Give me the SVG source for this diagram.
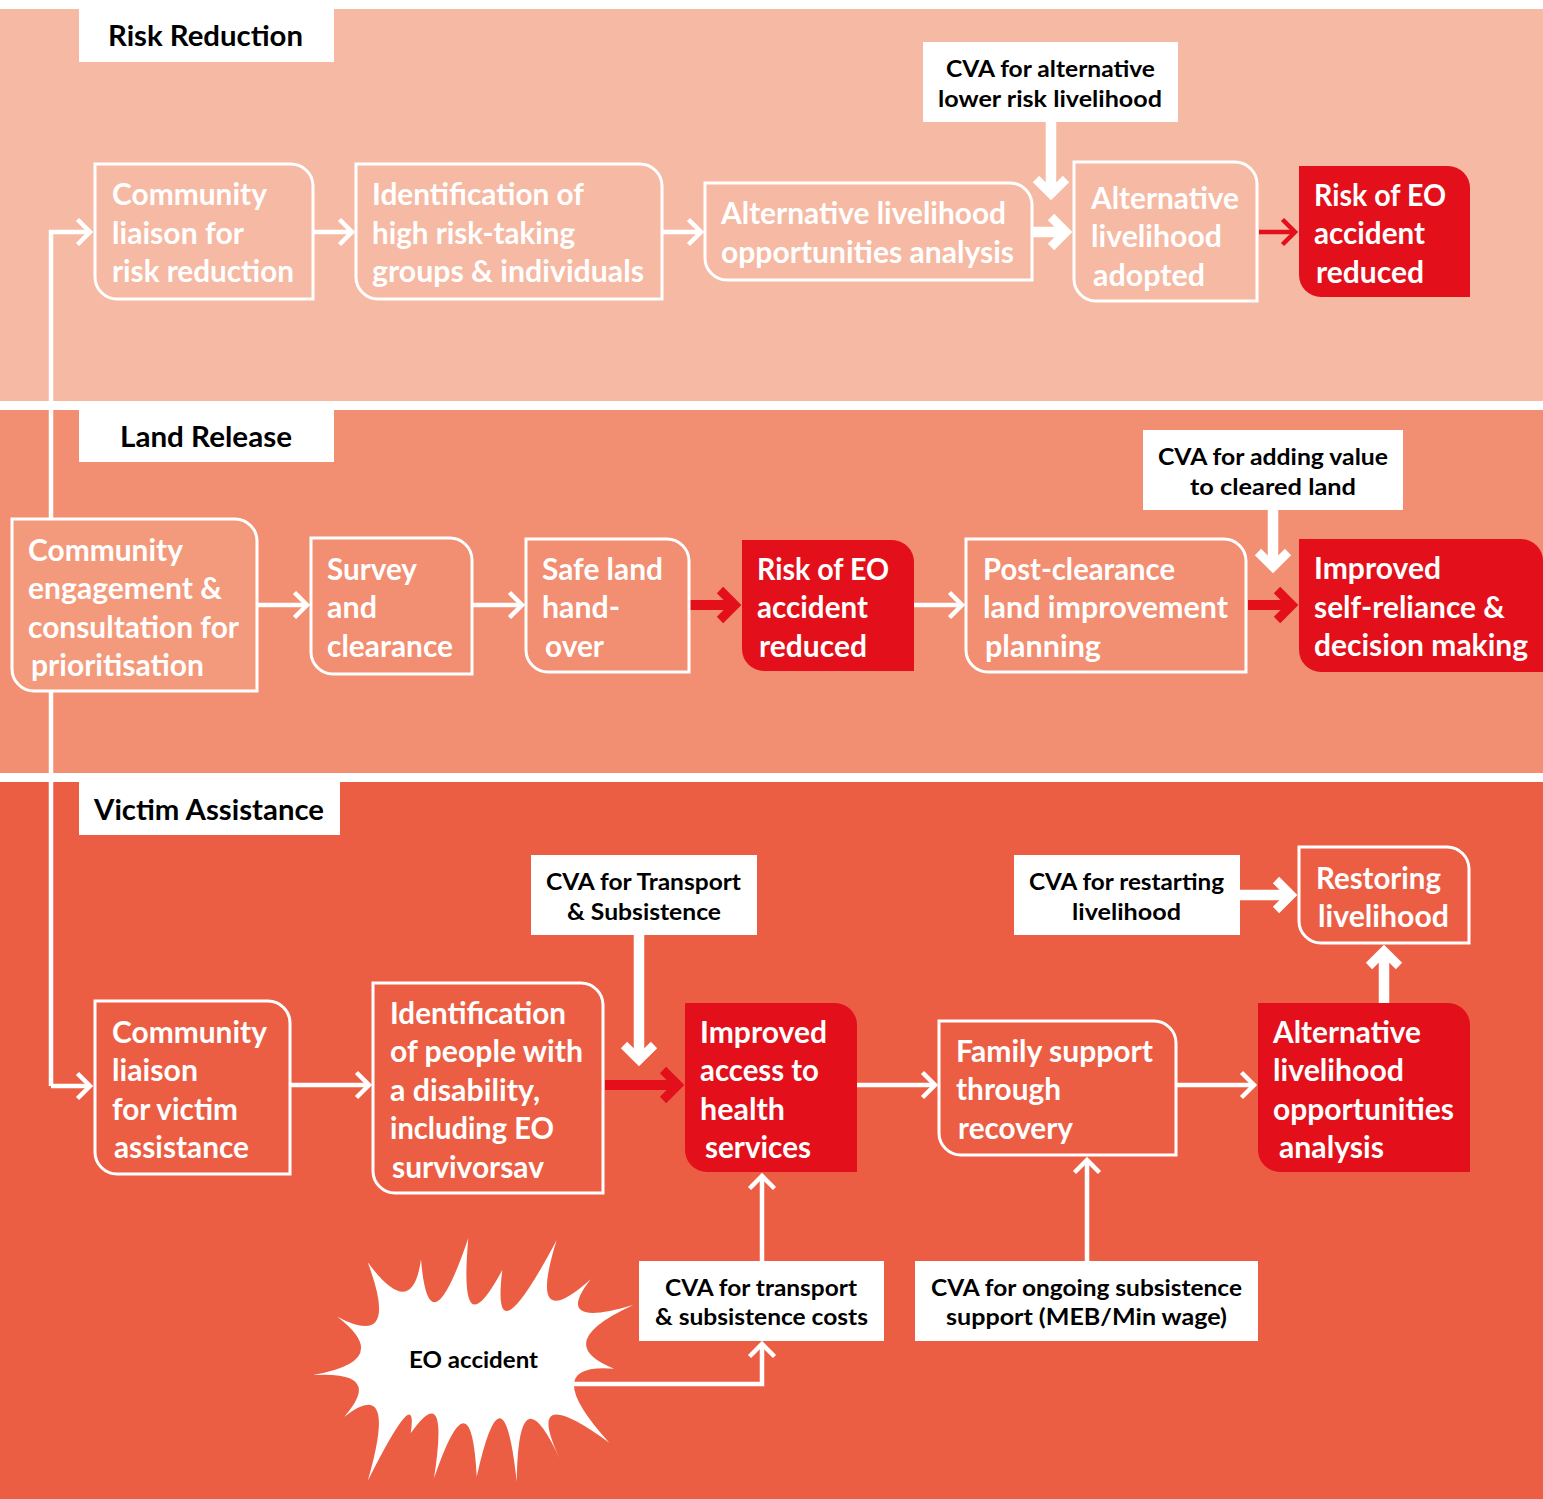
<svg xmlns="http://www.w3.org/2000/svg" width="1543" height="1499" viewBox="0 0 1543 1499">
<style>
text{font-family:Lato,"Liberation Sans",sans-serif;font-weight:700}
.w{font-size:29.5px;fill:#fff}
.c{font-size:23.5px;fill:#000}
.t{font-size:28px;fill:#000}
.box{fill:none;stroke:#fff;stroke-width:3}
.red{fill:#e30f1a}
.thin,.thick,.rthin,.rthick{fill:none}
.thin{stroke:#fff;stroke-width:4.5;marker-end:url(#mThin)}
.thick{stroke:#fff;stroke-width:10.5;marker-end:url(#mThick)}
.rthin{stroke:#e30f1a;stroke-width:4.5;marker-end:url(#mRThin)}
.rthick{stroke:#e30f1a;stroke-width:10;marker-end:url(#mRThick)}
</style>
<defs>
<marker id="mThin" markerUnits="userSpaceOnUse" markerWidth="40" markerHeight="40" viewBox="-30 -20 40 40" refX="0" refY="0" orient="auto"><path d="M-11.5,-12.5 L1,0 L-11.5,12.5" fill="none" stroke="#fff" stroke-width="4.5"/></marker>
<marker id="mRThin" markerUnits="userSpaceOnUse" markerWidth="40" markerHeight="40" viewBox="-30 -20 40 40" refX="0" refY="0" orient="auto"><path d="M-11.5,-12.5 L1,0 L-11.5,12.5" fill="none" stroke="#e30f1a" stroke-width="4.5"/></marker>
<marker id="mThick" markerUnits="userSpaceOnUse" markerWidth="60" markerHeight="60" viewBox="-40 -30 60 60" refX="0" refY="0" orient="auto"><path d="M-13,-15 L2,0 L-13,15" fill="none" stroke="#fff" stroke-width="9"/></marker>
<marker id="mRThick" markerUnits="userSpaceOnUse" markerWidth="60" markerHeight="60" viewBox="-40 -30 60 60" refX="0" refY="0" orient="auto"><path d="M-13,-15 L2,0 L-13,15" fill="none" stroke="#e30f1a" stroke-width="9"/></marker>
</defs>
<rect width="1543" height="1499" fill="#fff"/>
<g id="bands">
<rect x="0" y="9" width="1543" height="392" fill="#f6b9a3"/>
<rect x="0" y="410" width="1543" height="363" fill="#f28e71"/>
<rect x="0" y="782" width="1543" height="717" fill="#ec5e44"/>
</g>
<g id="connectors">
<path class="thin" d="M51,1086 V232 H89"/>
<path class="thin" d="M51,1086 H89"/>
<path class="thin" d="M313,232 H351"/>
<path class="thin" d="M662,232 H700"/>
<path class="thick" d="M1032,232 H1064"/>
<path class="thick" d="M1051,122 V192"/>
<path class="rthin" d="M1259,232 H1294"/>
<path class="thin" d="M257,605 H306"/>
<path class="thin" d="M472,605 H521"/>
<path class="rthick" d="M690,605 H733"/>
<path class="thin" d="M914,605 H961"/>
<path class="rthick" d="M1248,605 H1290"/>
<path class="thick" d="M1273,510 V565"/>
<path class="thin" d="M290,1085 H368"/>
<path class="rthick" d="M605,1085 H676"/>
<path class="thin" d="M857,1085 H934"/>
<path class="thin" d="M1176,1085 H1253"/>
<path class="thick" d="M639,935 V1058"/>
<path class="thick" d="M1240,895 H1289"/>
<path class="thick" d="M1384,1003 V953"/>
<path class="thin" d="M762,1261 V1177"/>
<path class="thin" d="M1087,1261 V1161"/>
<path class="thin" d="M570,1384 H762 V1345"/>
</g>
<g id="title-rr"><rect x="79" y="9" width="255" height="53" fill="#fff"/><text class="t" x="108" y="46" textLength="195" lengthAdjust="spacingAndGlyphs">Risk Reduction</text></g>
<g id="title-lr"><rect x="79" y="410" width="255" height="52" fill="#fff"/><text class="t" x="120" y="447" textLength="172" lengthAdjust="spacingAndGlyphs">Land Release</text></g>
<g id="title-va"><rect x="79" y="782" width="261" height="53" fill="#fff"/><text class="t" x="94" y="820" textLength="230" lengthAdjust="spacingAndGlyphs">Victim Assistance</text></g>

<g id="n1"><path class="box" d="M95,164 H291 A22,22 0 0 1 313,186 V299 H117 A22,22 0 0 1 95,277 Z"/>
<text class="w" x="112" y="205" textLength="155" lengthAdjust="spacingAndGlyphs">Community</text><text class="w" x="112" y="244" textLength="132" lengthAdjust="spacingAndGlyphs">liaison for</text><text class="w" x="112" y="282" textLength="182" lengthAdjust="spacingAndGlyphs">risk reduction</text></g>
<g id="n2"><path class="box" d="M356,164 H640 A22,22 0 0 1 662,186 V299 H378 A22,22 0 0 1 356,277 Z"/>
<text class="w" x="372" y="205" textLength="212" lengthAdjust="spacingAndGlyphs">Identification of</text><text class="w" x="372" y="244" textLength="203" lengthAdjust="spacingAndGlyphs">high risk-taking</text><text class="w" x="372" y="282" textLength="272" lengthAdjust="spacingAndGlyphs">groups &amp; individuals</text></g>
<g id="n3"><path class="box" d="M705,183 H1010 A22,22 0 0 1 1032,205 V280 H727 A22,22 0 0 1 705,258 Z"/>
<text class="w" x="721" y="224" textLength="285" lengthAdjust="spacingAndGlyphs">Alternative livelihood</text><text class="w" x="721" y="263" textLength="293" lengthAdjust="spacingAndGlyphs">opportunities analysis</text></g>
<g id="n4"><path class="box" d="M1074,162 H1235 A22,22 0 0 1 1257,184 V301 H1096 A22,22 0 0 1 1074,279 Z"/>
<text class="w" x="1091" y="209" textLength="148" lengthAdjust="spacingAndGlyphs">Alternative</text><text class="w" x="1091" y="247" textLength="131" lengthAdjust="spacingAndGlyphs">livelihood</text><text class="w" x="1093" y="286" textLength="112" lengthAdjust="spacingAndGlyphs">adopted</text></g>
<g id="n5"><path class="red" d="M1299,166 H1448 A22,22 0 0 1 1470,188 V297 H1321 A22,22 0 0 1 1299,275 Z"/>
<text class="w" x="1314" y="206" textLength="132" lengthAdjust="spacingAndGlyphs">Risk of EO</text><text class="w" x="1314" y="244" textLength="111" lengthAdjust="spacingAndGlyphs">accident</text><text class="w" x="1316" y="283" textLength="108" lengthAdjust="spacingAndGlyphs">reduced</text></g>
<g id="cva1"><rect x="923" y="42" width="255" height="80" fill="#fff"/><text class="c" x="946" y="77" textLength="209" lengthAdjust="spacingAndGlyphs">CVA for alternative</text><text class="c" x="938" y="107" textLength="224" lengthAdjust="spacingAndGlyphs">lower risk livelihood</text></g>

<g id="n6"><path d="M12,519 H235 A22,22 0 0 1 257,541 V691 H34 A22,22 0 0 1 12,669 Z" fill="#f49a7c" stroke="#fff" stroke-width="3"/>
<text class="w" x="28" y="561" textLength="155" lengthAdjust="spacingAndGlyphs">Community</text><text class="w" x="28" y="599" textLength="194" lengthAdjust="spacingAndGlyphs">engagement &amp;</text><text class="w" x="28" y="638" textLength="211" lengthAdjust="spacingAndGlyphs">consultation for</text><text class="w" x="31" y="676" textLength="173" lengthAdjust="spacingAndGlyphs">prioritisation</text></g>
<g id="n7"><path class="box" d="M311,538 H450 A22,22 0 0 1 472,560 V674 H333 A22,22 0 0 1 311,652 Z"/>
<text class="w" x="327" y="580" textLength="90" lengthAdjust="spacingAndGlyphs">Survey</text><text class="w" x="327" y="618" textLength="50" lengthAdjust="spacingAndGlyphs">and</text><text class="w" x="327" y="657" textLength="126" lengthAdjust="spacingAndGlyphs">clearance</text></g>
<g id="n8"><path class="box" d="M526,539 H667 A22,22 0 0 1 689,561 V672 H548 A22,22 0 0 1 526,650 Z"/>
<text class="w" x="542" y="580" textLength="121" lengthAdjust="spacingAndGlyphs">Safe land</text><text class="w" x="542" y="618" textLength="78" lengthAdjust="spacingAndGlyphs">hand-</text><text class="w" x="545" y="657" textLength="59" lengthAdjust="spacingAndGlyphs">over</text></g>
<g id="n9"><path class="red" d="M742,540 H892 A22,22 0 0 1 914,562 V671 H764 A22,22 0 0 1 742,649 Z"/>
<text class="w" x="757" y="580" textLength="132" lengthAdjust="spacingAndGlyphs">Risk of EO</text><text class="w" x="757" y="618" textLength="111" lengthAdjust="spacingAndGlyphs">accident</text><text class="w" x="759" y="657" textLength="108" lengthAdjust="spacingAndGlyphs">reduced</text></g>
<g id="n10"><path class="box" d="M966,539 H1224 A22,22 0 0 1 1246,561 V672 H988 A22,22 0 0 1 966,650 Z"/>
<text class="w" x="983" y="580" textLength="192" lengthAdjust="spacingAndGlyphs">Post-clearance</text><text class="w" x="983" y="618" textLength="245" lengthAdjust="spacingAndGlyphs">land improvement</text><text class="w" x="985" y="657" textLength="116" lengthAdjust="spacingAndGlyphs">planning</text></g>
<g id="n11"><path class="red" d="M1299,539 H1521 A22,22 0 0 1 1543,561 V672 H1321 A22,22 0 0 1 1299,650 Z"/>
<text class="w" x="1314" y="579" textLength="127" lengthAdjust="spacingAndGlyphs">Improved</text><text class="w" x="1314" y="618" textLength="191" lengthAdjust="spacingAndGlyphs">self-reliance &amp;</text><text class="w" x="1314" y="656" textLength="214" lengthAdjust="spacingAndGlyphs">decision making</text></g>
<g id="cva2"><rect x="1143" y="430" width="260" height="80" fill="#fff"/><text class="c" x="1158" y="465" textLength="230" lengthAdjust="spacingAndGlyphs">CVA for adding value</text><text class="c" x="1190" y="495" textLength="166" lengthAdjust="spacingAndGlyphs">to cleared land</text></g>

<g id="n12"><path class="box" d="M95,1001 H268 A22,22 0 0 1 290,1023 V1174 H117 A22,22 0 0 1 95,1152 Z"/>
<text class="w" x="112" y="1043" textLength="155" lengthAdjust="spacingAndGlyphs">Community</text><text class="w" x="112" y="1081" textLength="86" lengthAdjust="spacingAndGlyphs">liaison</text><text class="w" x="112" y="1120" textLength="126" lengthAdjust="spacingAndGlyphs">for victim</text><text class="w" x="114" y="1158" textLength="135" lengthAdjust="spacingAndGlyphs">assistance</text></g>
<g id="n13"><path class="box" d="M373,983 H581 A22,22 0 0 1 603,1005 V1193 H395 A22,22 0 0 1 373,1171 Z"/>
<text class="w" x="390" y="1024" textLength="176" lengthAdjust="spacingAndGlyphs">Identification</text><text class="w" x="390" y="1062" textLength="193" lengthAdjust="spacingAndGlyphs">of people with</text><text class="w" x="390" y="1101" textLength="150" lengthAdjust="spacingAndGlyphs">a disability,</text><text class="w" x="390" y="1139" textLength="164" lengthAdjust="spacingAndGlyphs">including EO</text><text class="w" x="392" y="1178" textLength="152" lengthAdjust="spacingAndGlyphs">survivorsav</text></g>
<g id="n14"><path class="red" d="M685,1003 H835 A22,22 0 0 1 857,1025 V1172 H707 A22,22 0 0 1 685,1150 Z"/>
<text class="w" x="700" y="1043" textLength="127" lengthAdjust="spacingAndGlyphs">Improved</text><text class="w" x="700" y="1081" textLength="119" lengthAdjust="spacingAndGlyphs">access to</text><text class="w" x="700" y="1120" textLength="85" lengthAdjust="spacingAndGlyphs">health</text><text class="w" x="705" y="1158" textLength="106" lengthAdjust="spacingAndGlyphs">services</text></g>
<g id="n15"><path class="box" d="M939,1021 H1154 A22,22 0 0 1 1176,1043 V1155 H961 A22,22 0 0 1 939,1133 Z"/>
<text class="w" x="956" y="1062" textLength="197" lengthAdjust="spacingAndGlyphs">Family support</text><text class="w" x="956" y="1100" textLength="105" lengthAdjust="spacingAndGlyphs">through</text><text class="w" x="958" y="1139" textLength="115" lengthAdjust="spacingAndGlyphs">recovery</text></g>
<g id="n16"><path class="red" d="M1258,1003 H1448 A22,22 0 0 1 1470,1025 V1172 H1280 A22,22 0 0 1 1258,1150 Z"/>
<text class="w" x="1273" y="1043" textLength="148" lengthAdjust="spacingAndGlyphs">Alternative</text><text class="w" x="1273" y="1081" textLength="131" lengthAdjust="spacingAndGlyphs">livelihood</text><text class="w" x="1273" y="1120" textLength="181" lengthAdjust="spacingAndGlyphs">opportunities</text><text class="w" x="1279" y="1158" textLength="105" lengthAdjust="spacingAndGlyphs">analysis</text></g>
<g id="n17"><path class="box" d="M1299,847 H1447 A22,22 0 0 1 1469,869 V943 H1321 A22,22 0 0 1 1299,921 Z"/>
<text class="w" x="1316" y="889" textLength="125" lengthAdjust="spacingAndGlyphs">Restoring</text><text class="w" x="1318" y="927" textLength="131" lengthAdjust="spacingAndGlyphs">livelihood</text></g>
<g id="cva3"><rect x="531" y="855" width="226" height="80" fill="#fff"/><text class="c" x="546" y="890" textLength="195" lengthAdjust="spacingAndGlyphs">CVA for Transport</text><text class="c" x="567" y="920" textLength="154" lengthAdjust="spacingAndGlyphs">&amp; Subsistence</text></g>
<g id="cva4"><rect x="1014" y="855" width="226" height="80" fill="#fff"/><text class="c" x="1029" y="890" textLength="195" lengthAdjust="spacingAndGlyphs">CVA for restarting</text><text class="c" x="1072" y="920" textLength="109" lengthAdjust="spacingAndGlyphs">livelihood</text></g>
<g id="cva5"><rect x="639" y="1261" width="245" height="80" fill="#fff"/><text class="c" x="665" y="1296" textLength="192" lengthAdjust="spacingAndGlyphs">CVA for transport</text><text class="c" x="655" y="1325" textLength="213" lengthAdjust="spacingAndGlyphs">&amp; subsistence costs</text></g>
<g id="cva6"><rect x="915" y="1261" width="343" height="80" fill="#fff"/><text class="c" x="931" y="1296" textLength="311" lengthAdjust="spacingAndGlyphs">CVA for ongoing subsistence</text><text class="c" x="946" y="1325" textLength="281" lengthAdjust="spacingAndGlyphs">support (MEB/Min wage)</text></g>
<g id="eo-accident"><path fill="#fff" d="M367.7,1262.3 Q412.3,1322.6 421,1259.3 Q428.7,1354.6 468.3,1238.3 Q458.1,1352.4 502.3,1270 Q490.5,1365 556.7,1240 Q526.3,1336.9 590.7,1279.3 Q551.4,1329.2 633.3,1305 Q549.7,1343.1 614,1368.7 Q536.3,1362.3 609.3,1442.7 Q521.9,1379 560,1459.3 Q518.2,1368.1 516.7,1481.7 Q503.3,1357.4 476.7,1476.7 Q471.2,1369.1 434,1478.3 Q449.6,1377.6 410.7,1433.3 Q418.8,1379.4 367.7,1481 Q398.6,1374.5 344.3,1416.7 Q384.9,1370.7 312.7,1375 Q395,1360.7 337.3,1316.7 Q400.9,1350.5 367.7,1262.3 Z"/>
<text class="c" x="409" y="1368" textLength="129" lengthAdjust="spacingAndGlyphs">EO accident</text></g>
</svg>
